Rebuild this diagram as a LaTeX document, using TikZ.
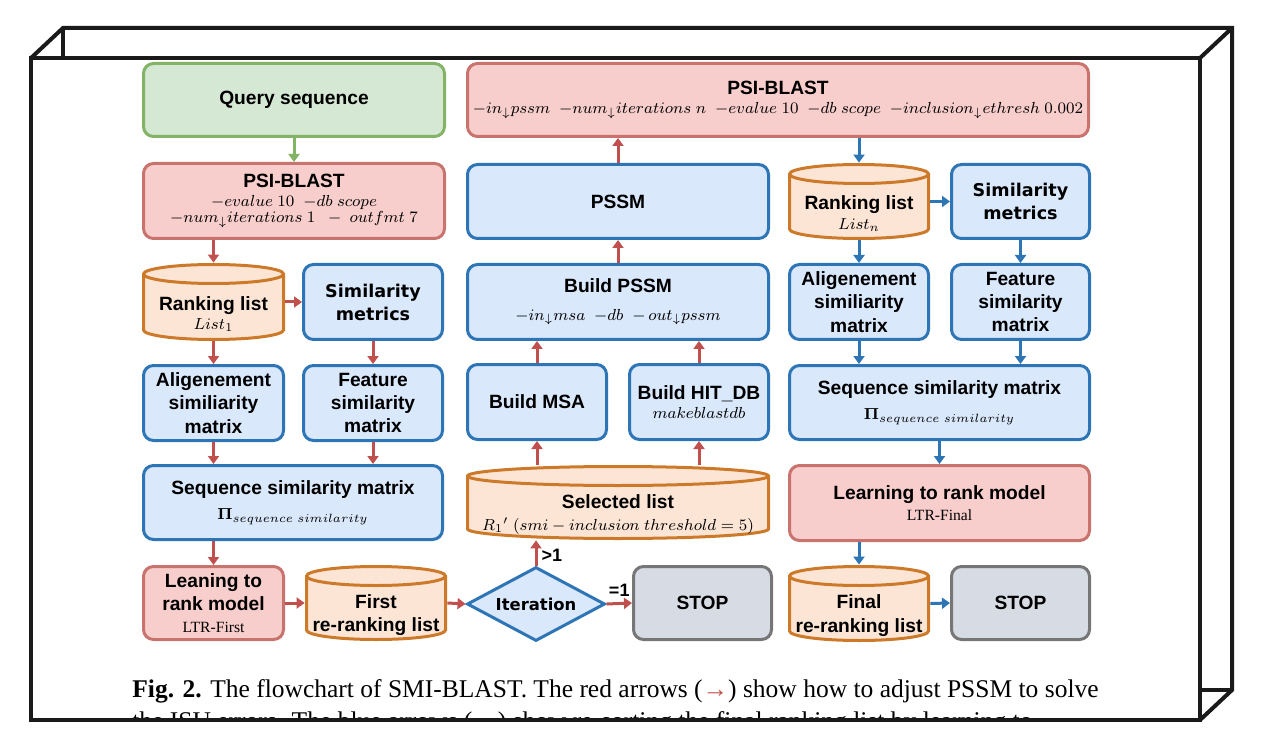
\documentclass[tikz,border=0pt]{standalone}
\usepackage[no-math]{fontspec}
\usepackage{amsmath}
\usepackage{amssymb}
\setmainfont{Liberation Serif}
\setsansfont{Liberation Sans}
\newfontfamily\metricsFont{DejaVu Sans}
\usetikzlibrary{arrows.meta, shapes.geometric}
\definecolor{frameColor}{RGB}{26,26,26}
\definecolor{blueLine}{RGB}{46,117,182}
\definecolor{blueFill}{RGB}{218,232,252}
\definecolor{redLine}{RGB}{200,115,110}
\definecolor{redFill}{RGB}{248,206,204}
\definecolor{greenLine}{RGB}{130,179,102}
\definecolor{greenFill}{RGB}{213,232,212}
\definecolor{orangeLine}{RGB}{204,122,41}
\definecolor{orangeFill}{RGB}{253,229,213}
\definecolor{grayLine}{RGB}{118,118,118}
\definecolor{grayFill}{RGB}{214,219,228}
\definecolor{redArrowColor}{RGB}{192,80,77}
\tikzstyle{diagram} = [x = 0.5pt, y = -0.5pt]
\tikzstyle{frameLine} = [color=frameColor, line width = 2pt, line join = miter]
\tikzstyle{boxStyle} = [rounded corners = 5pt, line width = 1.5pt, align = center, inner sep = 0pt, font = \sffamily\bfseries\fontsize{9.6}{11.7}\selectfont]
\tikzstyle{blueBoxStyle} = [boxStyle, draw = blueLine, fill = blueFill]
\tikzstyle{metricsBoxStyle} = [blueBoxStyle, font = \metricsFont\bfseries\fontsize{8.8}{11.5}\selectfont]
\tikzstyle{redBoxStyle} = [boxStyle, draw = redLine, fill = redFill]
\tikzstyle{greenBoxStyle} = [boxStyle, draw = greenLine, fill = greenFill]
\tikzstyle{grayBoxStyle} = [boxStyle, draw = grayLine, fill = grayFill]
\tikzstyle{cylinderStyle} = [draw = orangeLine, fill = orangeFill, line width = 1.5pt]
\tikzstyle{cylinderText} = [align = center, inner sep = 0pt, font = \sffamily\bfseries\fontsize{9.6}{11.7}\selectfont]
\tikzstyle{iterDiamond} = [diamond, aspect = 1.86, draw = blueLine, fill = blueFill, line width = 1.5pt, inner sep = 0pt, font = \metricsFont\bfseries\fontsize{8.2}{10}\selectfont]
\tikzstyle{redArrow} = [color = redArrowColor, line width = 1.5pt, -{Triangle[length = 4pt, width = 5.5pt]}]
\tikzstyle{blueArrow} = [color = blueLine, line width = 1.5pt, -{Triangle[length = 4pt, width = 5.5pt]}]
\tikzstyle{greenArrow} = [color = greenLine, line width = 1.5pt, -{Triangle[length = 4pt, width = 5.5pt]}]
\tikzstyle{arrowLabel} = [color = black, inner sep = 1pt, font = \sffamily\bfseries\fontsize{9}{10}\selectfont]
\tikzstyle{captionText} = [inner sep = 0pt, font = \rmfamily\fontsize{12.75}{15}\selectfont]
\newcommand{\pxSize}{0.5pt}
\newcommand{\cylRy}{11}
\newcommand{\paramText}[1]{{\fontsize{8}{9.6}\selectfont #1}}
\newcommand{\ltrText}[1]{{\rmfamily\mdseries\fontsize{7.8}{9}\selectfont #1}}
\newcommand{\flowBox}[7]{\node [#2, minimum width = {(#5 - #3) * \pxSize - 1.5pt}, minimum height = {(#6 - #4) * \pxSize - 1.5pt}] (#1) at ({(#3 + #5) / 2}, {(#4 + #6) / 2}) {#7};}
\newcommand{\listCylinder}[6]{
  \pgfmathsetmacro{\cylMid}{(#2 + #4) / 2}
  \pgfmathsetmacro{\cylRx}{(#4 - #2) / 2 - 1.5}
  \pgfmathsetmacro{\cylCenter}{(#3 + #5) / 2}
  \filldraw [cylinderStyle] (#2 + 1.5, #3 + \cylRy) -- (#2 + 1.5, #5 - \cylRy)
    arc [start angle = 180, end angle = 0, x radius = \cylRx, y radius = \cylRy - 1.5]
    -- (#4 - 1.5, #3 + \cylRy)
    arc [start angle = 0, end angle = -180, x radius = \cylRx, y radius = \cylRy - 1.5] -- cycle;
  \draw [cylinderStyle, fill = none] (#2 + 1.5, #3 + \cylRy) arc [start angle = 180, end angle = 0, x radius = \cylRx, y radius = \cylRy - 1.5];
  \node [minimum width = {(#4 - #2) * \pxSize}, minimum height = {(#5 - #3) * \pxSize}, inner sep = 0pt] (#1) at (\cylMid, \cylCenter) {};
  \node [cylinderText] (#1Text) at (\cylMid, \cylCenter + 12) {#6};
}

\begin{document}
\begin{tikzpicture}[diagram]
  \useasboundingbox (0, 0) rectangle (1262, 748);

  % caption, second line cut by the frame
  \node [captionText, anchor = base west] (captionFirst) at (132, 697) {\textbf{Fig. 2.} The flowchart of SMI-BLAST. The red arrows (\textcolor{redArrowColor}{→}) show how to adjust PSSM to solve};
  \begin{scope}
    \clip (31, 58) rectangle (1200, 719);
    \node [captionText, anchor = base west] (captionSecond) at (132, 729) {the ISU errors. The blue arrows (\textcolor{blueLine}{→}) show re-sorting the final ranking list by learning to};
  \end{scope}

  % box frame
  \draw [frameLine] (31, 58) rectangle (1200, 720);
  \draw [frameLine] (31, 58) -- (63, 28) -- (1232, 28) -- (1232, 690) -- (1200, 720);
  \draw [frameLine] (1200, 58) -- (1232, 28);
  \draw [frameLine] (63, 28) -- (63, 58);
  \draw [frameLine] (1200, 690) -- (1232, 690);

  % first search
  \flowBox{querySeq}{greenBoxStyle}{142}{62}{446}{138}{Query sequence}
  \flowBox{psiFirst}{redBoxStyle}{142}{162}{446}{240}{PSI-BLAST\\[-2.5pt]\paramText{$-evalue\ 10\ \ {-}db\ scope$}\\[-3.5pt]\paramText{$-num_{\downarrow}iterations\ 1\ \ -\ outfmt\ 7$}}
  \listCylinder{rankFirst}{142}{263}{285}{341}{Ranking list\\[-2pt]\paramText{$List_1$}}
  \flowBox{simFirst}{metricsBoxStyle}{302}{263}{444}{341}{Similarity\\metrics}
  \flowBox{alignFirst}{blueBoxStyle}{142}{364}{285}{442}{Aligenement\\similiarity\\matrix}
  \flowBox{featFirst}{blueBoxStyle}{302}{364}{444}{442}{Feature\\similarity\\matrix}
  \flowBox{seqFirst}{blueBoxStyle}{142}{464}{444}{541}{Sequence similarity matrix\\[1pt]\paramText{$\mathbf{\Pi}_{sequence\ similarity}$}}
  \flowBox{ltrFirst}{redBoxStyle}{142}{565}{285}{641}{Leaning to\\rank model\\[-1pt]\ltrText{LTR-First}}
  \listCylinder{rerankFirst}{305}{565}{447}{641}{First\\re-ranking list}
  \node [iterDiamond, minimum width = 69pt, minimum height = 37pt] (iter) at (536, 604) {Iteration};
  \flowBox{stopFirst}{grayBoxStyle}{632}{565}{773}{641}{STOP}

  % building the PSSM
  \flowBox{psiIter}{redBoxStyle}{466}{62}{1090}{138}{PSI-BLAST\\[-2.5pt]\paramText{$-in_{\downarrow}pssm\ \ {-}num_{\downarrow}iterations\ n\ \ {-}evalue\ 10\ \ {-}db\ scope\ \ {-}inclusion_{\downarrow}ethresh\ 0.002$}}
  \flowBox{pssm}{blueBoxStyle}{466}{163}{770}{240}{PSSM}
  \flowBox{buildPssm}{blueBoxStyle}{466}{263}{770}{341}{Build PSSM\\[2pt]\paramText{$-in_{\downarrow}msa\ \ {-}db\ \ {-}\,out_{\downarrow}pssm$}}
  \flowBox{buildMsa}{blueBoxStyle}{466}{363}{608}{441}{Build MSA}
  \flowBox{buildDb}{blueBoxStyle}{628}{363}{770}{441}{Build HIT\_DB\\[-2pt]\paramText{$makeblastdb$}}
  \listCylinder{selected}{466}{465}{770}{540}{Selected list\\[-1pt]\paramText{$R_1{}'\ (smi-inclusion\ threshold=5)$}}

  % final ranking
  \listCylinder{rankFinal}{788}{163}{930}{240}{Ranking list\\[-2pt]\paramText{$List_n$}}
  \flowBox{simFinal}{metricsBoxStyle}{950}{163}{1091}{240}{Similarity\\metrics}
  \flowBox{alignFinal}{blueBoxStyle}{788}{263}{930}{341}{Aligenement\\similiarity\\matrix}
  \flowBox{featFinal}{blueBoxStyle}{950}{263}{1091}{341}{Feature\\similarity\\matrix}
  \flowBox{seqFinal}{blueBoxStyle}{788}{364}{1091}{441}{Sequence similarity matrix\\[1pt]\paramText{$\mathbf{\Pi}_{sequence\ similarity}$}}
  \flowBox{ltrFinal}{redBoxStyle}{788}{464}{1091}{542}{Learning to rank model\\[-1pt]\ltrText{LTR-Final}}
  \listCylinder{rerankFinal}{788}{565}{930}{642}{Final\\re-ranking list}
  \flowBox{stopFinal}{grayBoxStyle}{950}{565}{1091}{641}{STOP}

  % red arrows
  \draw [greenArrow] (querySeq.south) -- (psiFirst.north);
  \draw [redArrow] (psiFirst.south -| rankFirst.north) -- (rankFirst.north);
  \draw [redArrow] (rankFirst.east |- simFirst.west) -- (simFirst.west);
  \draw [redArrow] (rankFirst.south) -- (alignFirst.north);
  \draw [redArrow] (simFirst.south) -- (featFirst.north);
  \draw [redArrow] (alignFirst.south) -- (alignFirst.south |- seqFirst.north);
  \draw [redArrow] (featFirst.south) -- (featFirst.south |- seqFirst.north);
  \draw [redArrow] (seqFirst.south -| ltrFirst.north) -- (ltrFirst.north);
  \draw [redArrow] (ltrFirst.east) -- (rerankFirst.west);
  \draw [redArrow] (rerankFirst.east) -- (iter.west);
  \draw [redArrow] (iter.north) -- (iter.north |- selected.south) node [arrowLabel, midway, right, xshift = 1pt, yshift = -1pt] {>1};
  \draw [redArrow] (iter.east) -- (stopFirst.west) node [arrowLabel, midway, above, yshift = 2pt] {=1};
  \draw [redArrow] (buildMsa.south |- selected.north) -- (buildMsa.south);
  \draw [redArrow] (buildDb.south |- selected.north) -- (buildDb.south);
  \draw [redArrow] (buildMsa.north) -- (buildMsa.north |- buildPssm.south);
  \draw [redArrow] (buildDb.north) -- (buildDb.north |- buildPssm.south);
  \draw [redArrow] (buildPssm.north) -- (pssm.south);
  \draw [redArrow] (pssm.north) -- (pssm.north |- psiIter.south);

  % blue arrows
  \draw [blueArrow] (rankFinal.north |- psiIter.south) -- (rankFinal.north);
  \draw [blueArrow] (rankFinal.east) -- (simFinal.west);
  \draw [blueArrow] (rankFinal.south) -- (alignFinal.north);
  \draw [blueArrow] (simFinal.south) -- (featFinal.north);
  \draw [blueArrow] (alignFinal.south) -- (alignFinal.south |- seqFinal.north);
  \draw [blueArrow] (featFinal.south) -- (featFinal.south |- seqFinal.north);
  \draw [blueArrow] (seqFinal.south) -- (ltrFinal.north);
  \draw [blueArrow] (ltrFinal.south -| rerankFinal.north) -- (rerankFinal.north);
  \draw [blueArrow] (rerankFinal.east) -- (stopFinal.west);
\end{tikzpicture}
\end{document}
